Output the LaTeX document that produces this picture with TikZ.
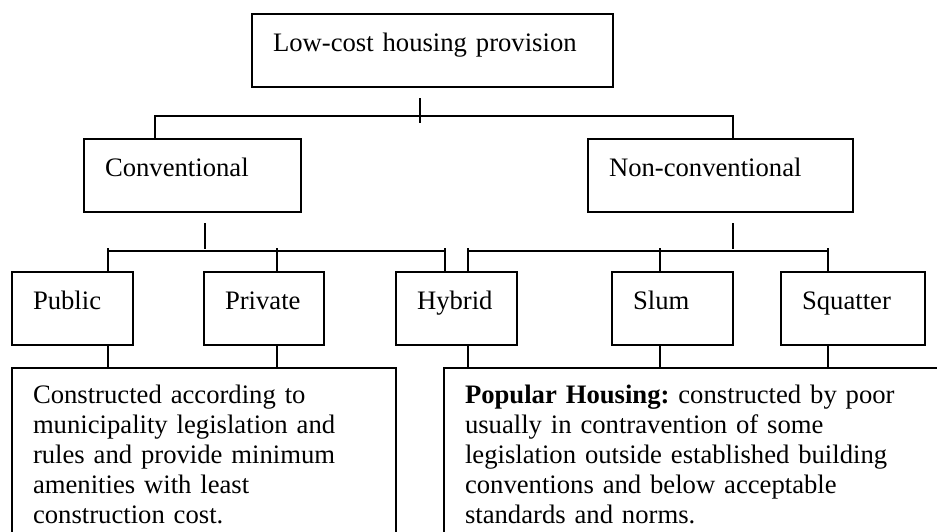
\documentclass[tikz,border=0pt]{standalone}
\usepackage{fontspec}
\setmainfont{Liberation Serif}

\begin{document}
\begin{tikzpicture}[x=0.45pt, y=-0.45pt, line width=0.75pt,
    font=\fontsize{12pt}{13.6pt}\selectfont,
    cell/.style={draw, anchor=north west, align=left, outer sep=0pt,
        inner xsep=9.45pt, inner ysep=0pt,
        text width=#1, text height=16.65pt, text depth=16.2pt},
    textbox/.style={cell=#1, text height=15.75pt, text depth=70pt}]
        \path[use as bounding box, clip] (0,0) rectangle (937,531);

        % top level
        \node[cell=143.55pt] (low) at (252,14) {Low-cost housing provision};

        % second level
        \node[cell=78.75pt] (conv) at (84,139) {Conventional};
        \node[cell=100.35pt] (nonconv) at (588,139) {Non-conventional};

        % third level
        \node[cell=35.55pt] (pub) at (12,272) {Public};
        \node[cell=35.1pt] (priv) at (204,272) {Private};
        \node[cell=35.55pt] (hyb) at (396,272) {Hybrid};
        \node[cell=35.55pt] (slum) at (612,272) {Slum};
        \node[cell=45.9pt] (squat) at (781,272) {Squatter};

        % descriptions
        \node[textbox=153.9pt] (cons) at (12,368) {Constructed according to\\
            municipality legislation and\\
            rules and provide minimum\\
            amenities with least\\
            construction cost.};
        \node[textbox=208.8pt] (pop) at (444,368) {\textbf{Popular Housing:}\ constructed by poor\\
            usually in contravention of some\\
            legislation outside established building\\
            conventions and below acceptable\\
            standards and norms.};

        % top bracket
        \coordinate (t1) at (420,98);
        \coordinate (t2) at (420,123);
        \draw (t1) -- (t2);
        \coordinate (barA) at (155,116);
        \coordinate (barB) at (733,116);
        \draw (conv.north -| barA) |- (barB) -- (nonconv.north -| barB);

        % conventional bracket
        \coordinate (c1) at (205,223);
        \coordinate (c2) at (205,249);
        \draw (c1) -- (c2);
        \coordinate (cA) at (108,251);
        \coordinate (cB) at (445,251);
        \draw (cA) -- (cB);
        \foreach \n/\x in {pub/108, priv/277, hyb/445}
            \draw (\n.north -| \x,0) -- ++(0,-24);

        % non-conventional bracket
        \coordinate (n1) at (733,223);
        \coordinate (n2) at (733,249);
        \draw (n1) -- (n2);
        \coordinate (nA) at (468,251);
        \coordinate (nB) at (828,251);
        \draw (nA) -- (nB);
        \foreach \n/\x in {hyb/468, slum/660, squat/828}
            \draw (\n.north -| \x,0) -- ++(0,-24);

        % down to descriptions
        \foreach \n/\m/\x in {pub/cons/108, priv/cons/277, hyb/pop/468, slum/pop/660, squat/pop/828}
            \draw (\n.south -| \x,0) -- (\m.north -| \x,0);
\end{tikzpicture}
\end{document}
